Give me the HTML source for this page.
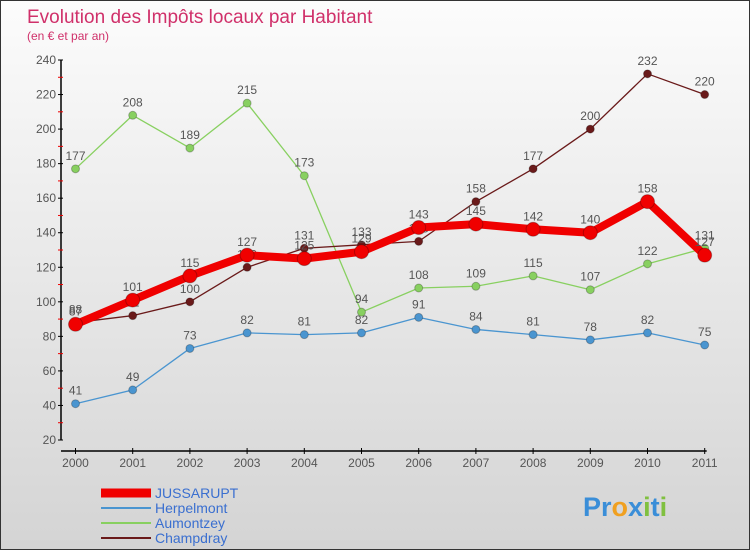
<!DOCTYPE html>
<html><head><meta charset="utf-8">
<style>
body{margin:0;width:750px;height:550px;overflow:hidden;font-family:"Liberation Sans",sans-serif}
#wrap{position:relative;width:748px;height:548px;border:1px solid #333;background:linear-gradient(#fcfcfc,#d4d4d4)}
</style></head><body>
<div id="wrap">
<svg id="chart" width="748" height="548" style="position:absolute;left:0;top:0">
<text x="26" y="22" font-size="19" fill="#d0306a">Evolution des Impôts locaux par Habitant</text>
<text x="26" y="39" font-size="12" fill="#d0306a">(en € et par an)</text>
<g id="axes"></g><g id="series"></g><g id="legend"></g>
<text x="582" y="515" font-size="27" font-weight="bold"><tspan fill="#3a8ed8">Pr</tspan><tspan fill="#f0a020">o</tspan><tspan fill="#3a8ed8">x</tspan><tspan fill="#80c040">i</tspan><tspan fill="#3a8ed8">t</tspan><tspan fill="#80c040">i</tspan></text>
</svg>
</div>
<script>
const years=[2000,2001,2002,2003,2004,2005,2006,2007,2008,2009,2010,2011];
const yTicks=[20,40,60,80,100,120,140,160,180,200,220,240];
const jussarupt=[87,101,115,127,125,129,143,145,142,140,158,127];
const herpelmont=[41,49,73,82,81,82,91,84,81,78,82,75];
const aumontzey=[177,208,189,215,173,94,108,109,115,107,122,131];
const champdray=[88,92,100,120,131,133,135,158,177,200,232,220];
const NS="http://www.w3.org/2000/svg";
function X(i){return 74.5+i*57.2;}
function Y(v){return 439-(v-20)*(380/220);}
function mk(tag,attrs,parent){const e=document.createElementNS(NS,tag);for(const k in attrs)e.setAttribute(k,attrs[k]);parent.appendChild(e);return e;}
const axes=document.getElementById('axes');
let yl=mk('line',{x1:60,y1:Y(240),x2:60,y2:Y(20),stroke:'#000','stroke-width':1.5},axes);


let xl=mk('line',{x1:60,y1:450,x2:X(11)+2,y2:450,stroke:'#000','stroke-width':1.5},axes);


yTicks.forEach((t,i)=>{
  mk('line',{x1:57,y1:Y(t),x2:62,y2:Y(t),stroke:'#000'},axes);
  if(i<yTicks.length-1)mk('line',{x1:57,y1:Y(t+10),x2:62,y2:Y(t+10),stroke:'#e00'},axes);
  const tx=mk('text',{x:55,y:Y(t)+4,'text-anchor':'end','font-size':12,fill:'#555'},axes);
  tx.textContent=t;
  
  
});
years.forEach((yr,i)=>{
  mk('line',{x1:X(i),y1:447,x2:X(i),y2:453,stroke:'#000'},axes);
  const tx=mk('text',{x:X(i),y:466,'text-anchor':'middle','font-size':12,fill:'#555'},axes);
  tx.textContent=yr;
  
  
});
const ser=document.getElementById('series');
function draw(name,data,color,w,r){
  const g=mk('g',{},ser);
  
  
  const pl=mk('polyline',{points:data.map((v,i)=>X(i)+','+Y(v)).join(' '),fill:'none',stroke:color,'stroke-width':w,'stroke-linejoin':'round'},g);
  
  
  data.forEach((v,i)=>{
    const c=mk('circle',{cx:X(i),cy:Y(v),r:r,fill:color,stroke:'rgba(0,0,0,0.25)','stroke-width':1},g);
    
    
    const t=mk('text',{x:X(i),y:Y(v)-9,'text-anchor':'middle','font-size':12,fill:'#555'},g);
    t.textContent=v;
    
    
  });
}
draw('herpelmont',herpelmont,'#4a95d0',1.3,4);
draw('aumontzey',aumontzey,'#88d060',1.3,4);
draw('champdray',champdray,'#6a1a1a',1.3,4);
draw('jussarupt',jussarupt,'#f00000',8,7);
const leg=document.getElementById('legend');
const legItems=[['JUSSARUPT','#f00000',9],['Herpelmont','#4a95d0',2],['Aumontzey','#88d060',2],['Champdray','#6a1a1a',2]];
legItems.forEach((it,i)=>{
  const y=492+i*15;
  const g=mk('g',{},leg);
  
  
  mk('line',{x1:100,y1:y,x2:150,y2:y,stroke:it[1],'stroke-width':it[2]},g);
  const t=mk('text',{x:154,y:y+5,'font-size':14,fill:'#3a6fd0'},g);
  t.textContent=it[0];
});
</script>
</body></html>
